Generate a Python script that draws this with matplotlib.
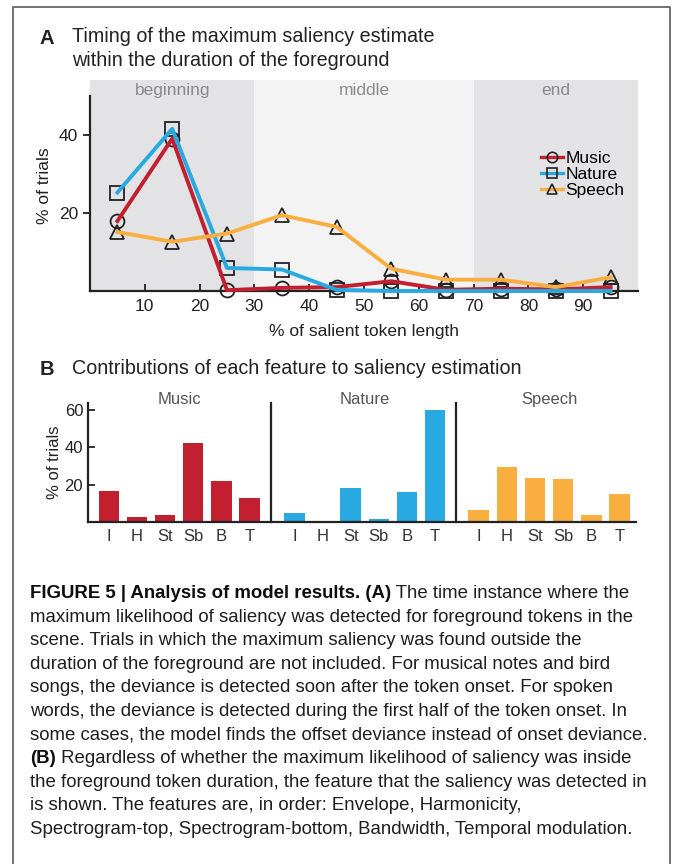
import numpy as np
import matplotlib.pyplot as plt
from matplotlib.lines import Line2D

plt.rcParams['font.family'] = ['Liberation Sans', 'DejaVu Sans']

# panel A: timing of the maximum saliency estimate
token_pos = [5, 15, 25, 35, 45, 55, 65, 75, 85, 95]
music_timing = [17.9, 39.0, 0.2, 0.8, 1.0, 2.5, 0.3, 0.6, 0.4, 1.0]
nature_timing = [25.2, 41.5, 5.9, 5.5, 0.3, 0.0, 0.0, 0.0, 0.0, 0.0]
speech_timing = [15.1, 12.6, 14.7, 19.4, 16.4, 5.7, 2.9, 2.9, 1.0, 3.5]
regions = ['beginning', 'middle', 'end']
region_edges = [0, 30, 70, 100]

# panel B: contributions of each feature
features = ['I', 'H', 'St', 'Sb', 'B', 'T']
groups = ['Music', 'Nature', 'Speech']
music_feat = [16.6, 2.7, 3.6, 42.3, 22.0, 13.0]
nature_feat = [4.8, 0.0, 18.2, 1.8, 16.2, 59.8]
speech_feat = [6.4, 29.3, 23.8, 22.9, 3.9, 15.2]

colors = ['#c21f30', '#29a9e1', '#f9ae40']
markers = ['o', 's', '^']

caption = [
    [("FIGURE 5 | Analysis of model results. (A)", True), (" The time instance where the", False)],
    [("maximum likelihood of saliency was detected for foreground tokens in the", False)],
    [("scene. Trials in which the maximum saliency was found outside the", False)],
    [("duration of the foreground are not included. For musical notes and bird", False)],
    [("songs, the deviance is detected soon after the token onset. For spoken", False)],
    [("words, the deviance is detected during the first half of the token onset. In", False)],
    [("some cases, the model finds the offset deviance instead of onset deviance.", False)],
    [("(B)", True), (" Regardless of whether the maximum likelihood of saliency was inside", False)],
    [("the foreground token duration, the feature that the saliency was detected in", False)],
    [("is shown. The features are, in order: Envelope, Harmonicity,", False)],
    [("Spectrogram-top, Spectrogram-bottom, Bandwidth, Temporal modulation.", False)],
]

W, H = 673, 864
fig = plt.figure(figsize=(W / 100, H / 100), dpi=100)


def fx(px):
    return px / W


def fy(py):
    return 1 - py / H


ink = '#222222'

# outer frame (open at the bottom)
fig.add_artist(Line2D([fx(13), fx(13), fx(670), fx(670)], [0, fy(7), fy(7), 0],
                      color='#666666', lw=1.3, transform=fig.transFigure))

# ---------- panel A ----------
fig.text(fx(40), fy(38), 'A', fontsize=14.5, fontweight='bold', color=ink, va='center')
fig.text(fx(72), fy(36), 'Timing of the maximum saliency estimate', fontsize=14.2, color=ink, va='center')
fig.text(fx(72), fy(60), 'within the duration of the foreground', fontsize=14.2, color=ink, va='center')

ax = fig.add_axes([fx(90), fy(291), fx(638) - fx(90), (291 - 80) / H])
shade = ['#e3e3e5', '#f3f3f3', '#e3e3e5']
for i, name in enumerate(regions):
    ax.axvspan(region_edges[i], region_edges[i + 1], color=shade[i], lw=0, zorder=0)
    ax.text((region_edges[i] + region_edges[i + 1]) / 2, 51.3, name, ha='center', va='center',
            fontsize=12.5, color='#8a8a8a')

handles = []
for y, c, m, name in zip([music_timing, nature_timing, speech_timing], colors, markers, groups):
    ax.plot(token_pos, y, ls='none', marker=m, mfc='none', mec=ink, ms=10, mew=1.3,
            zorder=2, clip_on=False)
    ax.plot(token_pos, y, color=c, lw=2.8, zorder=3, clip_on=False)
    handles.append(Line2D([], [], color=c, lw=2.4, marker=m, mfc='none', mec=ink, ms=7.5, mew=1.2))

ax.legend(handles, groups, loc='upper left', bbox_to_anchor=(0.81, 0.697), frameon=False,
          fontsize=12.5, handlelength=1.3, handletextpad=0.1, labelspacing=0.05, borderaxespad=0)

ax.set_xlim(0, 100)
ax.set_ylim(0, 54)
ax.set_xticks(range(10, 100, 10))
ax.set_yticks([20, 40])
ax.tick_params(axis='x', direction='in', length=5, width=1.3, labelsize=12.5, colors=ink, pad=6)
ax.tick_params(axis='y', direction='out', length=5, width=1.3, labelsize=12.5, colors=ink)
for s in ['top', 'right']:
    ax.spines[s].set_visible(False)
for s in ['left', 'bottom']:
    ax.spines[s].set_linewidth(1.6)
    ax.spines[s].set_color(ink)
ax.spines['left'].set_bounds(0, 50)
ax.set_xlabel('% of salient token length', fontsize=12.5, color=ink, labelpad=7)
ax.set_ylabel('% of trials', fontsize=12.5, color=ink, labelpad=5)

# ---------- panel B ----------
fig.text(fx(40), fy(370), 'B', fontsize=14.5, fontweight='bold', color=ink, va='center')
fig.text(fx(72), fy(369), 'Contributions of each feature to saliency estimation', fontsize=14.2,
         color=ink, va='center')

ax2 = fig.add_axes([fx(88), fy(522), fx(636) - fx(88), (522 - 402.5) / H])
offsets = [0, 6.6, 13.15]
tick_x, tick_lab = [], []
for off, vals, c, name in zip(offsets, [music_feat, nature_feat, speech_feat], colors, groups):
    xs = off + np.arange(len(features))
    ax2.bar(xs, vals, width=0.73, color=c, zorder=2)
    tick_x += list(xs)
    tick_lab += features
    ax2.text(off + 2.5, 65.5, name, ha='center', va='center', fontsize=12, color='#555555',
             clip_on=False)
for sep in [5.78, 12.34]:
    ax2.plot([sep, sep], [0, 64], color=ink, lw=1.6, clip_on=False)

ax2.set_xlim(-0.74, 18.74)
ax2.set_ylim(0, 64)
ax2.set_xticks(tick_x)
ax2.set_xticklabels(tick_lab)
ax2.set_yticks([20, 40, 60])
ax2.tick_params(axis='x', length=0, labelsize=12, colors='#333333', pad=5)
ax2.tick_params(axis='y', direction='in', length=5, width=1.3, labelsize=12, colors=ink)
for s in ['top', 'right']:
    ax2.spines[s].set_visible(False)
for s in ['left', 'bottom']:
    ax2.spines[s].set_linewidth(1.6)
    ax2.spines[s].set_color(ink)
ax2.set_ylabel('% of trials', fontsize=12, color=ink, labelpad=2)

# ---------- caption ----------
renderer = fig.canvas.get_renderer()
probe = fig.text(0, 0, caption[1][0][0], fontsize=10)
cap_fs = 10 * 610 / probe.get_window_extent(renderer).width
probe.remove()

for i, parts in enumerate(caption):
    x = fx(30)
    y = fy(598 + i * 23.6)
    for txt, bold in parts:
        t = fig.text(x, y, txt, fontsize=cap_fs, va='baseline',
                     fontweight='bold' if bold else 'normal',
                     color='#0d0d0d' if bold else '#1e1e1e')
        x = t.get_window_extent(renderer).x1 / W

fig.savefig('out.png', dpi=100)
